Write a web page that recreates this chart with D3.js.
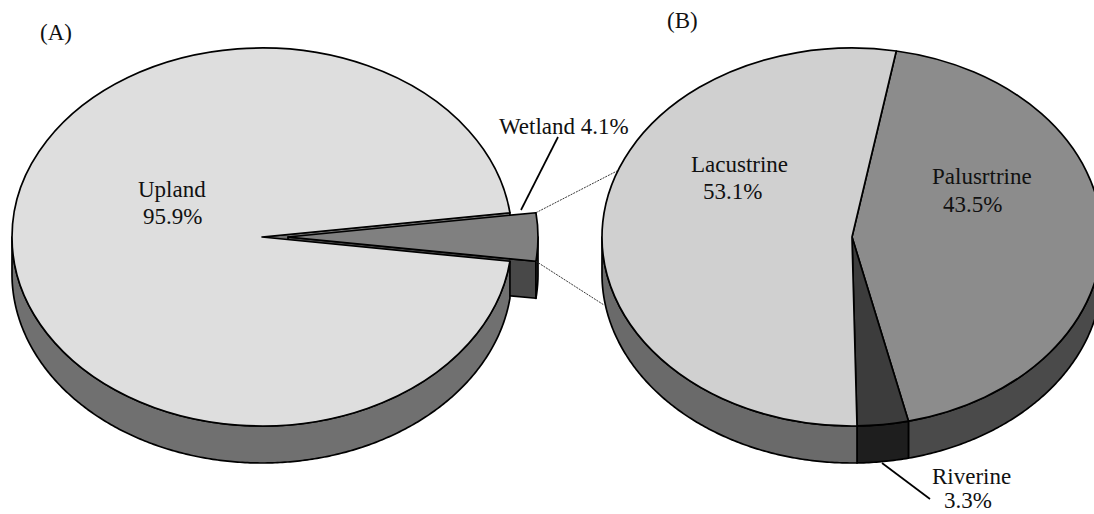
<!DOCTYPE html>
<html>
<head>
<meta charset="utf-8">
<script src="https://cdn.jsdelivr.net/npm/d3@7"></script>
<style>
    body { margin:0; background:#fff; }
    svg { display:block; }
    text { font-family:"Liberation Serif", serif; font-size:23px; fill:#111; }
</style>
</head>
<body>
<svg width="1094" height="514"></svg>
<script>
//Data
const categoriesA = ['Wetland','Upland'];
const valuesA = [4.1,95.9];
const categoriesB = ['Palusrtrine','Riverine','Lacustrine'];
const valuesB = [43.5,3.3,53.1];
const topColors = ['#808080','#dedede','#8c8c8c','#3c3c3c','#d0d0d0'];
const sideColors = ['#484848','#707070','#4a4a4a','#1e1e1e','#6a6a6a'];

//Dimensions layout
const rx = 250;
const ry = 189;
const depth = 37;
const cy = 237;
const cxA = 262;
const cxB = 852;
const explode = 26;
const edge = 1.7;

const svg = d3.select('svg');
const allNames = categoriesA.concat(categoriesB);
const topColor = d3.scaleOrdinal().domain(allNames).range(topColors);
const sideColor = d3.scaleOrdinal().domain(allNames).range(sideColors);

//Wetland is centered on the right side, B starts a bit past 12 o'clock
const startA = Math.PI/2 - Math.PI*valuesA[0]/d3.sum(valuesA);
const startB = 10.2*Math.PI/180;

function makePie(start){
    return d3.pie().sort(null).startAngle(start).endAngle(start + 2*Math.PI);
}
const slicesA = makePie(startA)(valuesA).map((d,i) => ({...d,name:categoriesA[i]}));
const slicesB = makePie(startB)(valuesB).map((d,i) => ({...d,name:categoriesB[i]}));

const arc = d3.arc().innerRadius(0).outerRadius(rx);
const line = d3.line();

//Rim point for an angle (clockwise from top)
function rim(cx,a,dy){
    return [cx + rx*Math.sin(a), cy - ry*Math.cos(a) + dy];
}

//Outside wall of a slice, only the front half of the disc can be seen
function drawSide(cx,d){
    const s = Math.max(d.startAngle,Math.PI/2);
    const e = Math.min(d.endAngle,Math.PI*3/2);
    if(e <= s) return;
    const angles = d3.range(s,e,0.01).concat([e]);
    const pts = angles.map(a => rim(cx,a,0))
        .concat(angles.slice().reverse().map(a => rim(cx,a,depth)));
    svg.append('path')
        .attr('d',line(pts)+'Z')
        .attr('fill',sideColor(d.name))
        .attr('stroke','#000')
        .attr('stroke-width',edge)
        .attr('stroke-linejoin','round');
}

//Cut face of a slice, from the center to the rim at one angle
function drawCut(cx,a,name){
    const pts = [[cx,cy],rim(cx,a,0),rim(cx,a,depth),[cx,cy+depth]];
    svg.append('path')
        .attr('d',line(pts)+'Z')
        .attr('fill',sideColor(name))
        .attr('stroke','#000')
        .attr('stroke-width',edge)
        .attr('stroke-linejoin','round');
}

function drawTop(cx,d){
    svg.append('path')
        .attr('d',arc(d))
        .attr('transform','translate('+cx+','+cy+') scale(1,'+(ry/rx)+')')
        .attr('fill',topColor(d.name))
        .attr('stroke','#000')
        .attr('stroke-width',edge)
        .attr('stroke-linejoin','round')
        .attr('vector-effect','non-scaling-stroke');
}

function drawLeader(pts,width,dash){
    svg.append('path')
        .attr('d',line(pts))
        .attr('fill','none')
        .attr('stroke',dash ? '#222' : '#000')
        .attr('stroke-width',width)
        .attr('stroke-dasharray',dash);
}

//Pie A, wetland pulled out, upland has to cover most of its cut face
const wetland = slicesA[0];
const upland = slicesA[1];
const cxWet = cxA + explode;
drawCut(cxA,upland.endAngle,'Upland');
drawCut(cxWet,wetland.endAngle,'Wetland');
drawSide(cxWet,wetland);
drawSide(cxA,upland);
drawTop(cxA,upland);
drawTop(cxWet,wetland);

//Pie B
slicesB.forEach(d => drawSide(cxB,d));
slicesB.forEach(d => drawTop(cxB,d));

//Thin lines between the wedge and pie B
drawLeader([rim(cxWet,wetland.startAngle,0),[617,171]],0.9,'2,1');
drawLeader([rim(cxWet,wetland.endAngle,0),[604,305]],0.9,'2,1');
//Label leaders
drawLeader([[558,137],[521,210]],1.7);
drawLeader([[882,463],[930,499]],1.7);

//Labels
function label(str,x,y){
    svg.append('text').attr('x',x).attr('y',y).text(str);
}
const pct = d => d.toFixed(1)+'%';
label('(A)',40,40);
label('(B)',667,28);
label(categoriesA[1],138,197);
label(pct(valuesA[1]),143,224);
label(categoriesA[0]+' '+pct(valuesA[0]),499,134);
label(categoriesB[2],691,172);
label(pct(valuesB[2]),703,199);
label(categoriesB[0],932,184);
label(pct(valuesB[0]),943,212);
label(categoriesB[1],932,484);
label(pct(valuesB[1]),944,508);
</script>
</body>
</html>
